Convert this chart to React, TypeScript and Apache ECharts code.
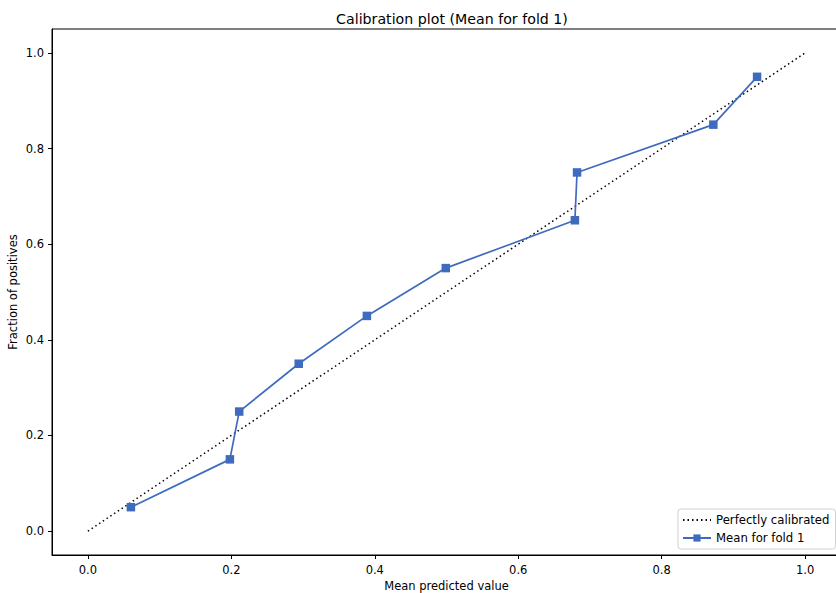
import React, { useEffect, useRef } from "react";
import * as echarts from "echarts";

const meanPredicted = [0.06, 0.198, 0.211, 0.294, 0.389, 0.499, 0.679, 0.682, 0.872, 0.933];
const fractionPositives = [0.05, 0.15, 0.25, 0.35, 0.45, 0.55, 0.65, 0.75, 0.85, 0.95];
const perfectX = [0, 1];
const perfectY = [0, 1];
const tickValues = [0, 0.2, 0.4, 0.6, 0.8, 1.0];
const titleText = "Calibration plot (Mean for fold 1)";
const seriesNames = ["Perfectly calibrated", "Mean for fold 1"];

export default function App() {
  const ref = useRef<HTMLDivElement>(null);
  useEffect(() => {
    if (!ref.current) return;
    const chart = echarts.init(ref.current, null, { renderer: "svg" });
    const font = "DejaVu Sans";
    chart.setOption({
      animation: false,
      backgroundColor: "#fff",
      textStyle: { fontFamily: font },
      title: {
        text: titleText,
        left: 447,
        top: 7,
        textAlign: "center",
        textStyle: { fontFamily: font, fontSize: 14.2, fontWeight: "normal", color: "#000" },
      },
      grid: {
        left: 52,
        top: 29,
        width: 789,
        height: 526,
        outerBoundsMode: "none",
        containLabel: false,
        show: true,
        borderColor: "#000",
        borderWidth: 1,
        backgroundColor: "transparent",
      },
      legend: {
        orient: "vertical",
        left: 678,
        top: 509,
        padding: [5, 6, 5, 4],
        itemGap: 6,
        itemWidth: 28,
        itemHeight: 9,
        borderColor: "#d0d0d0",
        borderWidth: 1,
        borderRadius: 3,
        backgroundColor: "rgba(255,255,255,0.8)",
        textStyle: { fontFamily: font, fontSize: 11.7, color: "#000" },
        data: [
          { name: seriesNames[0], itemStyle: { opacity: 0 } },
          { name: seriesNames[1] },
        ],
      },
      xAxis: {
        type: "value",
        min: -0.05,
        max: 1.05,
        name: "Mean predicted value",
        nameLocation: "middle",
        nameGap: 25,
        nameMoveOverlap: false,
        nameTextStyle: { fontFamily: font, fontSize: 11.5, color: "#000" },
        splitLine: { show: false },
        axisLine: { show: true, onZero: false, lineStyle: { color: "#000" } },
        axisTick: { show: true, length: 4, lineStyle: { color: "#000" }, customValues: tickValues },
        axisLabel: {
          color: "#000",
          fontSize: 11.5,
          margin: 9,
          customValues: tickValues,
          formatter: (v: number) => v.toFixed(1),
        },
      },
      yAxis: {
        type: "value",
        min: -0.05,
        max: 1.05,
        name: "Fraction of positives",
        nameLocation: "middle",
        nameGap: 33,
        nameMoveOverlap: false,
        nameTextStyle: { fontFamily: font, fontSize: 11.5, color: "#000" },
        splitLine: { show: false },
        axisLine: { show: true, onZero: false, lineStyle: { color: "#000" } },
        axisTick: { show: true, length: 4, lineStyle: { color: "#000" }, customValues: tickValues },
        axisLabel: {
          color: "#000",
          fontSize: 11.5,
          margin: 8,
          customValues: tickValues,
          formatter: (v: number) => v.toFixed(1),
        },
      },
      series: [
        {
          name: seriesNames[0],
          type: "line",
          data: perfectX.map((x, i) => [x, perfectY[i]]),
          symbol: "none",
          color: "#000",
          lineStyle: { color: "#000", width: 1.5, type: [1.5, 3] },
          z: 2,
        },
        {
          name: seriesNames[1],
          type: "line",
          data: meanPredicted.map((x, i) => [x, fractionPositives[i]]),
          symbol: "rect",
          symbolSize: 8.5,
          color: "#3E6BBE",
          itemStyle: { color: "#3E6BBE" },
          lineStyle: { color: "#3E6BBE", width: 1.7 },
          z: 3,
        },
      ],
    });
    return () => chart.dispose();
  }, []);
  return <div ref={ref} style={{ width: 836, height: 593, position: "absolute", left: 0, top: 0 }} />;
}
